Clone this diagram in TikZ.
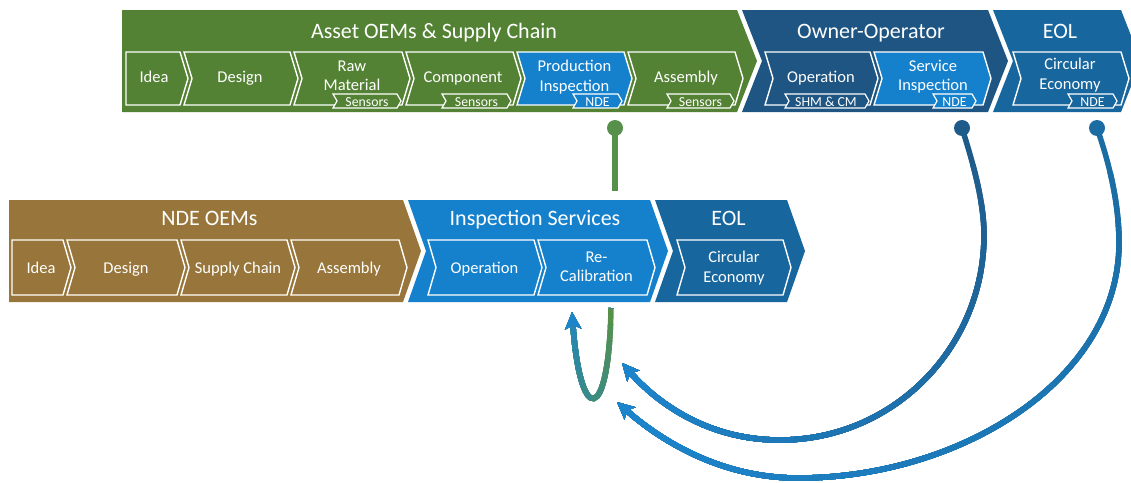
\documentclass[tikz,border=0pt]{standalone}
\usepackage{fontspec}
\setmainfont{Carlito}
\usetikzlibrary{arrows.meta}
\definecolor{cgreen}{HTML}{548235}
\definecolor{cdark}{HTML}{1F5582}
\definecolor{ceol}{HTML}{18669E}
\definecolor{clight}{HTML}{1581CD}
\definecolor{cbrown}{HTML}{98763B}
\definecolor{lgreen}{HTML}{56904A}
\definecolor{ldark}{HTML}{1F5B89}
\definecolor{leol}{HTML}{1B6CA2}
\definecolor{lblue}{HTML}{1C84CA}
% chevron with notched left side / flat left side
\newcommand\chevN[6][]{\path[#1] (#2,#4) -- (#3,#4) -- ({#3+#6},{(#4+#5)/2}) -- (#3,#5) -- (#2,#5) -- ({#2+#6},{(#4+#5)/2}) -- cycle;}
\newcommand\chevF[6][]{\path[#1] (#2,#4) -- (#3,#4) -- ({#3+#6},{(#4+#5)/2}) -- (#3,#5) -- (#2,#5) -- cycle;}
\tikzset{
  banner/.style={fill=#1},
  inchev/.style={fill=#1, draw=white, line width=1.4pt, line join=miter},
  tabbox/.style={fill=#1, draw=white, line width=1.2pt, line join=miter},
  ttl/.style={text=white, font=\fontsize{22}{24}\selectfont, anchor=base, inner sep=0pt},
  lbl/.style={text=white, font=\fontsize{16.5}{19.5}\selectfont, inner sep=0pt, align=center},
  tlbl/.style={text=white, font=\fontsize{13.8}{15}\selectfont, anchor=base, inner sep=0pt},
  conndot/.style={circle, inner sep=0pt, minimum size=16pt, fill=#1},
  conn/.style={line width=5.5pt},
  tipstyle/.style={-{Stealth[length=17pt,width=16pt,inset=4pt]}}
}
\begin{document}
\begin{tikzpicture}[x=1pt,y=-1pt]
\fill[white] (0,0) rectangle (1131,482);
\useasboundingbox (0,0) rectangle (1131,482);

% ---------------- top row banners ----------------
\chevF[banner=cgreen]{122}{737}{10}{112}{20}
\chevN[banner=cdark]{742}{988}{10}{112}{20}
\chevN[banner=ceol]{993}{1121}{10}{112}{20}
\node[ttl] (tAsset) at (434,38) {Asset OEMs \& Supply Chain};
\node[ttl] (tOwner) at (871,38) {Owner-Operator};
\node[ttl] (tEOL1) at (1060,38) {EOL};

% top row steps
\chevF[inchev=cgreen]{126}{180}{52}{105}{8}
\chevN[inchev=cgreen]{184}{290}{52}{105}{8}
\chevN[inchev=cgreen]{294}{402}{52}{105}{8}
\chevN[inchev=cgreen]{406}{513}{52}{105}{8}
\chevN[inchev=clight]{517}{624}{52}{105}{8}
\chevN[inchev=cgreen]{628}{735}{52}{105}{8}
\chevN[inchev=cdark]{765}{870}{52}{105}{8}
\chevN[inchev=clight]{874}{983}{52}{105}{8}
\chevN[inchev=ceol]{1013}{1121}{52}{105}{8}

\node[lbl, anchor=base] (aIdea) at (154,82) {Idea};
\node[lbl, anchor=base] (aDesign) at (240,82) {Design};
\node[lbl] (aRaw) at (352,76) {Raw\\Material};
\node[lbl, anchor=base] (aComp) at (463,82) {Component};
\node[lbl] (aProd) at (574.5,77) {Production\\Inspection};
\node[lbl, anchor=base] (aAsm) at (686,82) {Assembly};
\node[lbl, anchor=base] (oOper) at (821,82) {Operation};
\node[lbl] (oServ) at (933,76.5) {Service\\Inspection};
\node[lbl] (eCirc) at (1070,75) {Circular\\Economy};

% tabs
\chevN[tabbox=cgreen]{333}{397}{94}{108}{4}
\chevN[tabbox=cgreen]{442}{507}{94}{108}{4}
\chevN[tabbox=clight]{573}{618}{94}{108}{4}
\chevN[tabbox=cgreen]{667}{730}{94}{108}{4}
\chevN[tabbox=cdark]{785}{865}{94}{108}{4}
\chevN[tabbox=clight]{933}{972}{94}{108}{4}
\chevN[tabbox=ceol]{1068}{1113}{94}{108}{4}
\node[tlbl] (sRaw) at (367,106.5) {Sensors};
\node[tlbl] (sComp) at (476.5,106.5) {Sensors};
\node[tlbl] (nProd) at (597.5,106.5) {NDE};
\node[tlbl] (sAsm) at (700.5,106.5) {Sensors};
\node[tlbl] (sOper) at (826,106.5) {SHM \& CM};
\node[tlbl] (nServ) at (954.5,106.5) {NDE};
\node[tlbl] (nEOL) at (1092.5,106.5) {NDE};

% ---------------- bottom row banners ----------------
\chevF[banner=cbrown]{9}{403}{200}{302}{18}
\chevN[banner=clight]{408}{650}{200}{302}{18}
\chevN[banner=ceol]{655}{787}{200}{302}{18}
\node[ttl] (tNDE) at (209.5,225) {NDE OEMs};
\node[ttl] (tInsp) at (535,225) {Inspection Services};
\node[ttl] (tEOL2) at (728.5,225) {EOL};

\chevF[inchev=cbrown]{12}{63}{240}{295}{8}
\chevN[inchev=cbrown]{67}{177}{240}{295}{8}
\chevN[inchev=cbrown]{181}{287}{240}{295}{8}
\chevN[inchev=cbrown]{291}{399}{240}{295}{8}
\chevN[inchev=clight]{428}{534}{240}{295}{8}
\chevN[inchev=clight]{538}{647}{240}{295}{8}
\chevN[inchev=ceol]{677}{783}{240}{295}{8}

\node[lbl, anchor=base] (bIdea) at (41,273) {Idea};
\node[lbl, anchor=base] (bDesign) at (126,273) {Design};
\node[lbl, anchor=base] (bSupply) at (238,273) {Supply Chain};
\node[lbl, anchor=base] (bAsm) at (349,273) {Assembly};
\node[lbl, anchor=base] (iOper) at (484.5,273) {Operation};
\node[lbl] (iRecal) at (596.5,267) {Re-\\Calibration};
\node[lbl] (bCirc) at (734,268) {Circular\\Economy};

% ---------------- connectors ----------------
\coordinate (dA) at (615,128);
\coordinate (gA) at (615,191);
\coordinate (uS) at (611,308);
\coordinate (tipU) at (572,312);
\coordinate (dB) at (962,128);
\coordinate (tipB) at (622,363);
\coordinate (dC) at (1097,128);
\coordinate (tipC) at (617,402);

\draw[conn, draw=lgreen] (dA) -- (gA);

% U loop (green to blue)
\foreach \i in {0,...,12}{
  \pgfmathsetmacro\goff{\i*16}
  \pgfmathsetmacro\gpc{100-\i*100/12}
  \draw[conn, tipstyle, draw=lgreen!\gpc!lblue, dash pattern=on 0.01pt off \goff pt on 5000pt off 1pt]
    (uS) .. controls (609,426) and (580,426) .. (tipU);
}
% arc from service inspection
\foreach \i in {0,...,15}{
  \pgfmathsetmacro\goff{\i*38}
  \pgfmathsetmacro\gpc{100-\i*100/15}
  \draw[conn, tipstyle, draw=ldark!\gpc!lblue, dash pattern=on 0.01pt off \goff pt on 5000pt off 1pt]
    (dB) .. controls (972,160) and (984,200) .. (984,235)
         .. controls (984,348) and (893,440) .. (780,440)
         .. controls (700,440) and (650,395) .. (tipB);
}
% arc from EOL
\foreach \i in {0,...,15}{
  \pgfmathsetmacro\goff{\i*46}
  \pgfmathsetmacro\gpc{100-\i*100/15}
  \draw[conn, tipstyle, draw=leol!\gpc!lblue, dash pattern=on 0.01pt off \goff pt on 5000pt off 1pt]
    (dC) .. controls (1108,160) and (1119,200) .. (1119,243)
         .. controls (1119,380) and (960,478) .. (798,478)
         .. controls (720,478) and (660,440) .. (tipC);
}

\node[conndot=lgreen] (dotA) at (dA) {};
\node[conndot=ldark] (dotB) at (dB) {};
\node[conndot=leol] (dotC) at (dC) {};
\end{tikzpicture}
\end{document}
